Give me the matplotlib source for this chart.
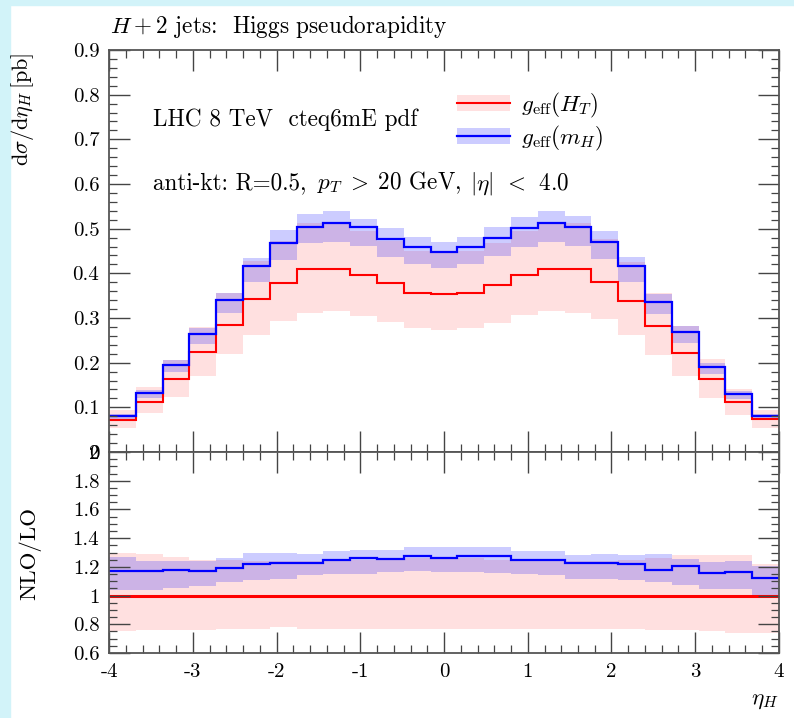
import matplotlib
matplotlib.use('Agg')
import matplotlib.pyplot as plt
from matplotlib.lines import Line2D
from matplotlib.patches import Patch, Rectangle
from matplotlib.ticker import MultipleLocator, FixedLocator, FixedFormatter
import numpy as np

plt.rcParams['font.family'] = 'cmr10'
plt.rcParams['mathtext.fontset'] = 'cm'
plt.rcParams['axes.unicode_minus'] = False

# 25 bins in eta_H from -4 to 4
edges = np.linspace(-4, 4, 26)

# upper panel: d sigma / d eta_H [pb]
ht_central = [0.072, 0.112, 0.163, 0.224, 0.284, 0.342, 0.378, 0.410, 0.410, 0.396, 0.378, 0.357, 0.353,
              0.357, 0.374, 0.396, 0.410, 0.410, 0.380, 0.338, 0.282, 0.221, 0.163, 0.111, 0.074]
ht_lo = [0.053, 0.087, 0.124, 0.169, 0.219, 0.262, 0.294, 0.312, 0.316, 0.304, 0.292, 0.277, 0.273,
         0.277, 0.289, 0.307, 0.316, 0.312, 0.298, 0.262, 0.217, 0.169, 0.120, 0.083, 0.053]
ht_hi = [0.094, 0.145, 0.207, 0.280, 0.355, 0.428, 0.473, 0.513, 0.513, 0.495, 0.473, 0.450, 0.448,
         0.450, 0.468, 0.495, 0.513, 0.513, 0.477, 0.425, 0.355, 0.283, 0.209, 0.142, 0.093]

mh_central = [0.080, 0.132, 0.195, 0.264, 0.340, 0.417, 0.468, 0.503, 0.512, 0.503, 0.476, 0.458, 0.448,
              0.458, 0.478, 0.501, 0.512, 0.503, 0.470, 0.416, 0.336, 0.268, 0.190, 0.130, 0.080]
mh_lo = [0.073, 0.121, 0.178, 0.241, 0.311, 0.380, 0.430, 0.467, 0.469, 0.461, 0.437, 0.421, 0.413,
         0.421, 0.438, 0.460, 0.470, 0.462, 0.431, 0.380, 0.308, 0.245, 0.174, 0.119, 0.073]
mh_hi = [0.084, 0.139, 0.205, 0.277, 0.357, 0.434, 0.497, 0.533, 0.540, 0.521, 0.501, 0.482, 0.471,
         0.482, 0.503, 0.527, 0.540, 0.528, 0.494, 0.436, 0.354, 0.282, 0.200, 0.137, 0.084]

# lower panel: NLO/LO
ratio_ht = [1.0] * 25
ratio_ht_lo = [0.75, 0.76, 0.76, 0.76, 0.77, 0.77, 0.78, 0.77, 0.77, 0.77, 0.77, 0.77, 0.77,
               0.77, 0.77, 0.77, 0.77, 0.77, 0.77, 0.77, 0.76, 0.76, 0.75, 0.74, 0.74]
ratio_ht_hi = [1.30, 1.29, 1.27, 1.25, 1.25, 1.24, 1.24, 1.24, 1.25, 1.25, 1.25, 1.26, 1.27,
               1.26, 1.25, 1.25, 1.25, 1.24, 1.24, 1.25, 1.26, 1.28, 1.28, 1.28, 1.22]
ratio_mh = [1.168, 1.168, 1.180, 1.168, 1.194, 1.222, 1.226, 1.229, 1.249, 1.263, 1.256, 1.279, 1.265,
            1.279, 1.274, 1.251, 1.249, 1.226, 1.226, 1.222, 1.180, 1.205, 1.157, 1.163, 1.125]
ratio_mh_lo = [1.037, 1.041, 1.050, 1.064, 1.094, 1.110, 1.118, 1.140, 1.152, 1.150, 1.163, 1.170, 1.165,
               1.163, 1.157, 1.147, 1.140, 1.118, 1.118, 1.106, 1.094, 1.071, 1.048, 1.048, 1.002]
ratio_mh_hi = [1.267, 1.244, 1.240, 1.244, 1.263, 1.295, 1.297, 1.292, 1.309, 1.319, 1.319, 1.337, 1.335,
               1.337, 1.335, 1.309, 1.312, 1.284, 1.292, 1.282, 1.291, 1.256, 1.233, 1.244, 1.203]

upper_ticks = [0, 0.1, 0.2, 0.3, 0.4, 0.5, 0.6, 0.7, 0.8, 0.9]
upper_labels = ['0', '0.1', '0.2', '0.3', '0.4', '0.5', '0.6', '0.7', '0.8', '0.9']
lower_ticks = [0.6, 0.8, 1.0, 1.2, 1.4, 1.6, 1.8, 2.0]
lower_labels = ['0.6', '0.8', '1', '1.2', '1.4', '1.6', '1.8', '2']
x_ticks = [-4, -3, -2, -1, 0, 1, 2, 3, 4]
x_labels = ['-4', '-3', '-2', '-1', '0', '1', '2', '3', '4']

red = '#ff0000'
blue = '#0000ff'
red_band = (1, 0, 0, 0.12)
blue_band = (0, 0, 1, 0.2)
fs = 16.7

fig = plt.figure(figsize=(7.94, 7.18), dpi=100)
ax1 = fig.add_axes([0.1373, 0.3705, 0.8438, 0.5599])
ax2 = fig.add_axes([0.1373, 0.0905, 0.8438, 0.28])

centers = 0.5 * (edges[:-1] + edges[1:])
width = edges[1] - edges[0]


def draw(ax, c1, lo1, hi1, c2, lo2, hi2, lw1):
    ax.bar(centers, np.array(hi1) - np.array(lo1), width=width, bottom=lo1, color=red_band, linewidth=0)
    ax.bar(centers, np.array(hi2) - np.array(lo2), width=width, bottom=lo2, color=blue_band, linewidth=0)
    ax.stairs(c1, edges, color=red, linewidth=lw1, baseline=None)
    ax.stairs(c2, edges, color=blue, linewidth=1.6, baseline=None)


draw(ax1, ht_central, ht_lo, ht_hi, mh_central, mh_lo, mh_hi, 1.5)
draw(ax2, ratio_ht, ratio_ht_lo, ratio_ht_hi, ratio_mh, ratio_mh_lo, ratio_mh_hi, 2.2)

for ax in (ax1, ax2):
    ax.set_xlim(-4, 4)
    ax.xaxis.set_major_locator(FixedLocator(x_ticks))
    ax.xaxis.set_minor_locator(MultipleLocator(0.2))
    ax.tick_params(which='both', direction='in', top=True, right=True, color='#444444',
                   labelsize=15, pad=7)
    ax.tick_params(which='major', length=15, width=1.0)
    ax.tick_params(which='minor', length=6, width=0.9)
    for s in ax.spines.values():
        s.set_color('#555555')
        s.set_linewidth(1.3)

ax1.set_ylim(0, 0.9)
ax1.yaxis.set_major_locator(FixedLocator(upper_ticks))
ax1.yaxis.set_major_formatter(FixedFormatter(upper_labels))
ax1.yaxis.set_minor_locator(MultipleLocator(0.02))
ax1.tick_params(labelbottom=False)

ax2.set_ylim(0.6, 2.0)
ax2.yaxis.set_major_locator(FixedLocator(lower_ticks))
ax2.yaxis.set_major_formatter(FixedFormatter(lower_labels))
ax2.yaxis.set_minor_locator(MultipleLocator(0.05))
ax2.xaxis.set_major_formatter(FixedFormatter(x_labels))

# annotation text, placed in pieces to follow the reference spacing
ax1.text(0.0657, 0.826, 'LHC 8 TeV  cteq6mE pdf', transform=ax1.transAxes,
         ha='left', va='center', fontsize=fs)
ax1.text(0.0657, 0.669, 'anti-kt: R=0.5,', transform=ax1.transAxes,
         ha='left', va='center', fontsize=fs)
ax1.text(0.3105, 0.669, r'$p_T\;>\;20$ GeV,', transform=ax1.transAxes,
         ha='left', va='center', fontsize=fs)
ax1.text(0.5388, 0.669, r'$|\eta|\;\,<\;\,4.0$', transform=ax1.transAxes,
         ha='left', va='center', fontsize=fs)

h1 = (Patch(facecolor=red_band, edgecolor='none'), Line2D([], [], color=red, lw=1.5))
h2 = (Patch(facecolor=blue_band, edgecolor='none'), Line2D([], [], color=blue, lw=1.6))
ax1.legend([h1, h2], [r'$g_{\rm eff}(H_T)$', r'$g_{\rm eff}(m_H)$'], loc='upper left',
           bbox_to_anchor=(0.519, 0.898), frameon=False, handlelength=2.3, handletextpad=0.45,
           labelspacing=0.15, borderpad=0, borderaxespad=0, fontsize=fs)

fig.text(110 / 794, 1 - 27 / 718, r'$H+2$ jets:  Higgs pseudorapidity', ha='left', va='center', fontsize=fs)
fig.text(22 / 794, 1 - 53 / 718, r'$\mathrm{d}\sigma/\mathrm{d}\eta_H\,[\mathrm{pb}]$', rotation=90,
         ha='center', va='top', fontsize=16)
fig.text(30 / 794, 1 - 507 / 718, 'NLO/LO', rotation=90, ha='center', va='top', fontsize=16.5)
fig.text(765 / 794, 1 - 700 / 718, r'$\eta_H$', ha='center', va='center', fontsize=fs)

# light cyan page border
fig.add_artist(Rectangle((0, 0), 10 / 794, 1, transform=fig.transFigure, color='#d2f3f9', zorder=-1))
fig.add_artist(Rectangle((0, 1 - 5 / 718), 1, 5 / 718, transform=fig.transFigure, color='#d2f3f9', zorder=-1))

fig.savefig('out.png', dpi=100)
